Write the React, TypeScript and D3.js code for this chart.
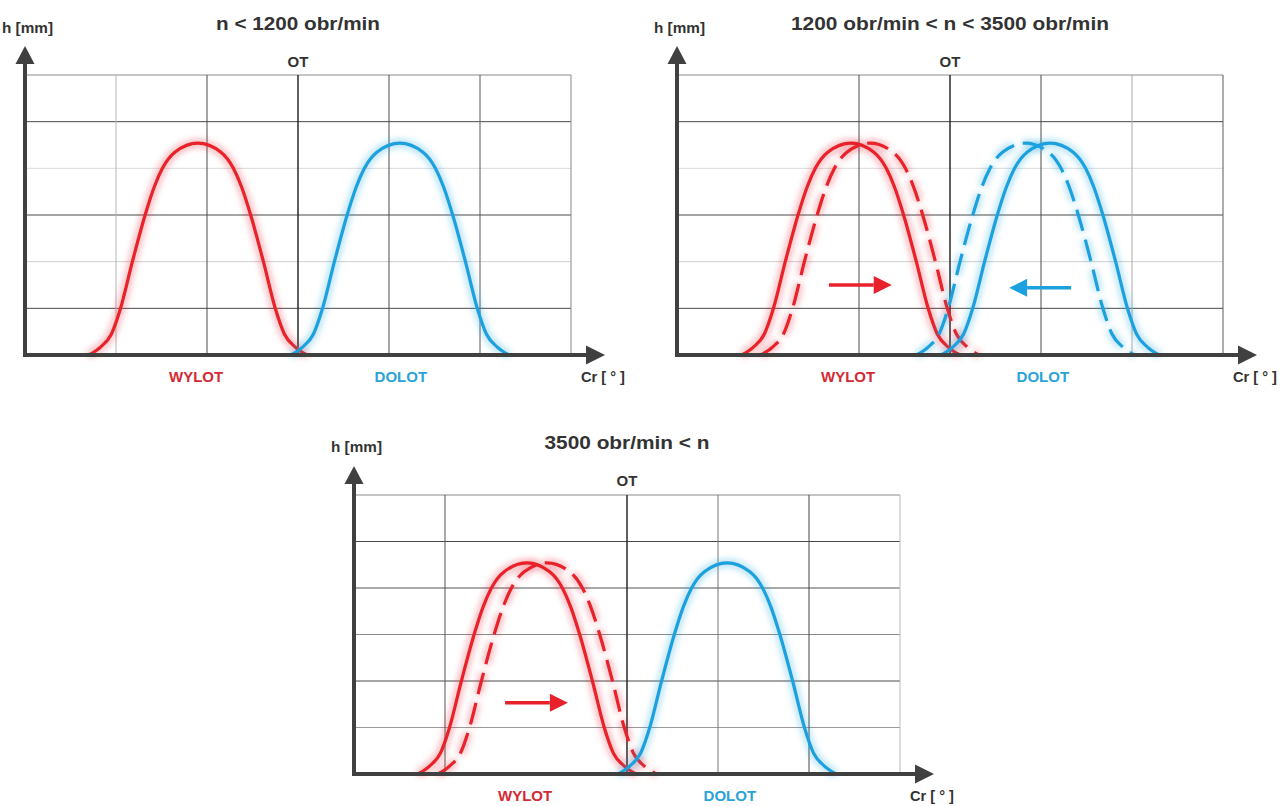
import React from 'react';
import * as d3 from 'd3';

// Valve lift profile: offset from the peak (grid units) and lift h (grid units)
const LIFT_OFFSET = [-1.2, -1.07, -0.95, -0.85, -0.72, -0.58, -0.48, -0.39, -0.25, 0, 0.25, 0.39, 0.48, 0.58, 0.72, 0.85, 0.95, 1.07, 1.2];
const LIFT_H = [0, 0.17, 0.45, 1.0, 2.0, 3.0, 3.6, 4.0, 4.35, 4.54, 4.35, 4.0, 3.6, 3.0, 2.0, 1.0, 0.45, 0.17, 0];

const TITLES = ['n < 1200 obr/min', '1200 obr/min < n < 3500 obr/min', '3500 obr/min < n'];
const TITLE_WIDTHS = [164, 318, 165];

// peak positions of each curve (grid units, OT = 0)
const P1_CURVES = [
  { kind: 'exhaust', peak: -1.1, dashed: false },
  { kind: 'intake', peak: 1.12, dashed: false },
];
const P2_CURVES = [
  { kind: 'exhaust', peak: -1.09, dashed: false },
  { kind: 'exhaust', peak: -0.88, dashed: true },
  { kind: 'intake', peak: 1.1, dashed: false },
  { kind: 'intake', peak: 0.83, dashed: true },
];
const P3_CURVES = [
  { kind: 'exhaust', peak: -1.1, dashed: false },
  { kind: 'exhaust', peak: -0.88, dashed: true },
  { kind: 'intake', peak: 1.1, dashed: false },
];

// shift arrows: [x start, x tip, h]
const P2_ARROWS = [
  { kind: 'exhaust', from: -1.33, to: -0.64, h: 1.5 },
  { kind: 'intake', from: 1.33, to: 0.65, h: 1.44 },
];
const P3_ARROWS = [{ kind: 'exhaust', from: -1.34, to: -0.65, h: 1.53 }];

const LABEL_X = [
  [-1.12, 1.13],
  [-1.12, 1.02],
  [-1.12, 1.13],
];

const V_GRID = [-2, -1, 0, 1, 2, 3];
const H_GRID = [1, 2, 3, 4, 5, 6];

const COLORS: Record<string, string> = { exhaust: '#e8212a', intake: '#1ba1de' };
const LABEL_COLORS: Record<string, string> = { exhaust: '#d42a33', intake: '#2aa3d8' };
const FONT = '"Liberation Sans", Arial, Helvetica, sans-serif';
const AXIS = '#404040';
const TEXT = '#333333';
const DASH = '22 9';

type PanelProps = {
  ox: number;
  oy: number;
  gh: number;
  idx: number;
  curves: { kind: string; peak: number; dashed: boolean }[];
  arrows: { kind: string; from: number; to: number; h: number }[];
  vColors: (string | null)[];
  hColors: string[];
};

function Panel({ ox, oy, gh, idx, curves, arrows, vColors, hColors }: PanelProps) {
  const x = d3.scaleLinear().domain([-3, 3]).range([ox, ox + 546]);
  const y = d3.scaleLinear().domain([0, 6]).range([oy, oy - gh]);
  const line = d3
    .line<[number, number]>()
    .x((d) => x(d[0]))
    .y((d) => y(d[1]))
    .curve(d3.curveMonotoneX);

  const x0 = x(-3);
  const xEnd = x(3);
  const yTop = y(6);

  return (
    <g>
      {/* grid */}
      {H_GRID.map((h, i) => (
        <line key={'h' + h} x1={x0} x2={xEnd} y1={y(h)} y2={y(h)} stroke={hColors[i]} strokeWidth={1} />
      ))}
      {V_GRID.map((v, i) =>
        vColors[i] ? (
          <line
            key={'v' + v}
            x1={x(v)}
            x2={x(v)}
            y1={yTop}
            y2={oy}
            stroke={vColors[i] as string}
            strokeWidth={v === 0 ? 1.5 : 1}
          />
        ) : null
      )}

      {/* curves */}
      {curves.map((c, i) => {
        const pts: [number, number][] = LIFT_OFFSET.map((o, k) => [c.peak + o, LIFT_H[k]]);
        const d = line(pts) || '';
        const col = COLORS[c.kind];
        return (
          <g key={'c' + i}>
            <path
              d={d}
              fill="none"
              stroke={col}
              strokeWidth={8}
              strokeOpacity={0.32}
              strokeDasharray={c.dashed ? DASH : undefined}
              filter="url(#soft)"
            />
            <path
              d={d}
              fill="none"
              stroke={col}
              strokeWidth={3.2}
              strokeDasharray={c.dashed ? DASH : undefined}
              strokeLinecap="butt"
            />
          </g>
        );
      })}

      {/* shift arrows */}
      {arrows.map((a, i) => {
        const col = COLORS[a.kind];
        const xs = x(a.from);
        const xt = x(a.to);
        const yy = y(a.h);
        const dir = xt > xs ? 1 : -1;
        const xb = xt - dir * 18;
        return (
          <g key={'a' + i}>
            <line x1={xs} x2={xb} y1={yy} y2={yy} stroke={col} strokeWidth={3.5} />
            <path d={`M${xt},${yy} L${xb},${yy - 9} L${xb},${yy + 9} Z`} fill={col} />
          </g>
        );
      })}

      {/* axes */}
      <line x1={x0} x2={x0} y1={oy + 2} y2={yTop - 12} stroke={AXIS} strokeWidth={4} />
      <path d={`M${x0},${yTop - 29} L${x0 - 9.5},${yTop - 11} L${x0 + 9.5},${yTop - 11} Z`} fill={AXIS} />
      <line x1={x0 - 2} x2={xEnd + 16} y1={oy} y2={oy} stroke={AXIS} strokeWidth={4} />
      <path d={`M${xEnd + 34},${oy} L${xEnd + 15},${oy - 9.5} L${xEnd + 15},${oy + 9.5} Z`} fill={AXIS} />

      {/* texts */}
      <text x={x0 - 23} y={oy - 322} fontFamily={FONT} fontWeight="bold" fontSize={15} fill={TEXT} textLength={51} lengthAdjust="spacingAndGlyphs">
        h [mm]
      </text>
      <text
        x={x(0)}
        y={oy - 325}
        fontFamily={FONT}
        fontWeight="bold"
        fontSize={19}
        fill={TEXT}
        textAnchor="middle"
        textLength={TITLE_WIDTHS[idx]}
        lengthAdjust="spacingAndGlyphs"
      >
        {TITLES[idx]}
      </text>
      <text x={x(0)} y={oy - 288} fontFamily={FONT} fontWeight="bold" fontSize={15} fill={TEXT} textAnchor="middle">
        OT
      </text>
      <text x={x(LABEL_X[idx][0])} y={oy + 27} fontFamily={FONT} fontWeight="bold" fontSize={15} fill={LABEL_COLORS.exhaust} textAnchor="middle">
        WYLOT
      </text>
      <text x={x(LABEL_X[idx][1])} y={oy + 27} fontFamily={FONT} fontWeight="bold" fontSize={15} fill={LABEL_COLORS.intake} textAnchor="middle">
        DOLOT
      </text>
      <text x={xEnd + 10} y={oy + 27} fontFamily={FONT} fontWeight="bold" fontSize={15} fill={TEXT} textLength={44} lengthAdjust="spacingAndGlyphs">
        Cr [ ° ]
      </text>
    </g>
  );
}

export default function App() {
  const hA = ['#8a8a8a', '#4a4a4a', '#dadada', '#4a4a4a', '#cfcfcf', '#4a4a4a'].reverse();
  const hC = ['#8a8a8a', '#4a4a4a', '#555555', '#8a8a8a', '#4a4a4a', '#9a9a9a'].reverse();
  return (
    <svg
      width={1280}
      height={806}
      viewBox="0 0 1280 806"
      style={{ position: 'absolute', left: 0, top: 0, background: '#ffffff' }}
    >
      <defs>
        <filter id="soft" x="-20%" y="-20%" width="140%" height="140%">
          <feGaussianBlur stdDeviation="3" />
        </filter>
      </defs>
      <rect x={0} y={0} width={1280} height={806} fill="#ffffff" />
      <Panel
        ox={25}
        oy={355}
        gh={280}
        idx={0}
        curves={P1_CURVES}
        arrows={[]}
        vColors={['#b5b5b5', '#4a4a4a', '#2a2a2a', '#4a4a4a', '#5a5a5a', '#888888']}
        hColors={hA}
      />
      <Panel
        ox={677}
        oy={355}
        gh={280}
        idx={1}
        curves={P2_CURVES}
        arrows={P2_ARROWS}
        vColors={[null, '#4a4a4a', '#2a2a2a', '#4a4a4a', '#aaaaaa', '#5a5a5a']}
        hColors={hA}
      />
      <Panel
        ox={354}
        oy={774}
        gh={279}
        idx={2}
        curves={P3_CURVES}
        arrows={P3_ARROWS}
        vColors={['#555555', null, '#2a2a2a', '#777777', '#444444', '#bbbbbb']}
        hColors={hC}
      />
    </svg>
  );
}
